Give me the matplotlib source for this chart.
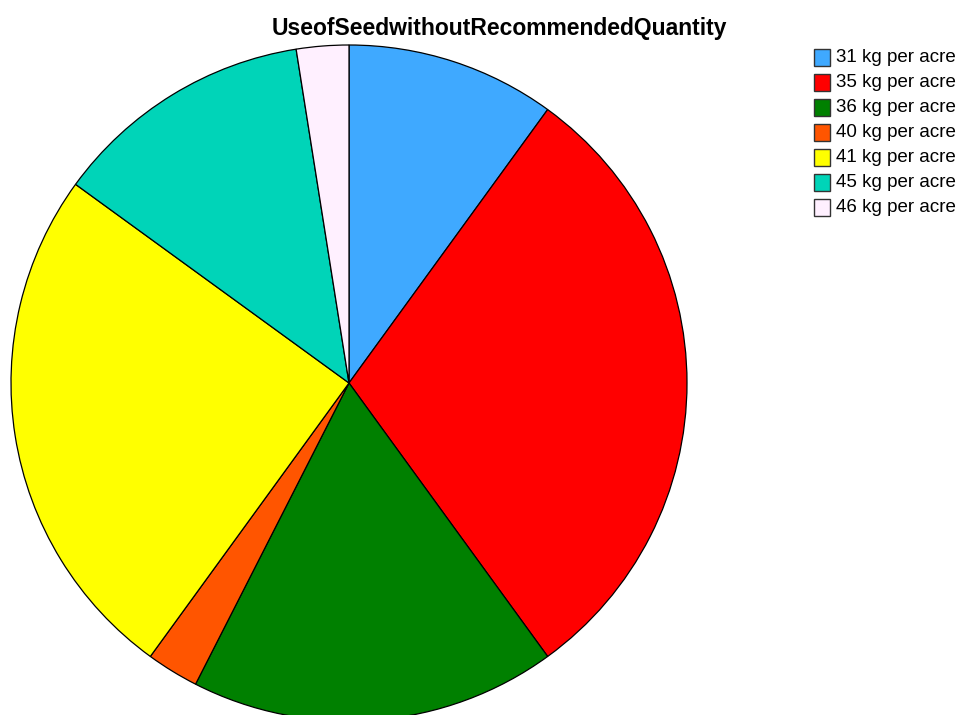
import matplotlib
matplotlib.use("Agg")
import matplotlib.pyplot as plt
from matplotlib.patches import Rectangle

labels = ["31 kg per acre", "35 kg per acre", "36 kg per acre", "40 kg per acre",
          "41 kg per acre", "45 kg per acre", "46 kg per acre"]
counts = [4, 12, 7, 1, 10, 5, 1]
colors = ["#3FA9FF", "#FF0000", "#008000", "#FF5500", "#FFFF00", "#00D4B8", "#FFF0FF"]

plt.rcParams["font.family"] = ["Liberation Sans", "DejaVu Sans"]

W, H = 961, 715
fig = plt.figure(figsize=(W / 100, H / 100), dpi=100)

# pie axes: centre (349, 383), radius 338 px
cx, cy, r = 349, 383, 338
ax = fig.add_axes([(cx - r) / W, (H - cy - r) / H, 2 * r / W, 2 * r / H])
ax.pie(counts, colors=colors, startangle=90, counterclock=False, radius=1,
       wedgeprops=dict(edgecolor="black", linewidth=0.9))
ax.set_xlim(-1, 1)
ax.set_ylim(-1, 1)
ax.set_aspect("equal")
ax.axis("off")

fig.text(499 / W, 1 - 28 / H, "UseofSeedwithoutRecommendedQuantity",
         ha="center", va="center", fontsize=16.5, fontweight="bold")

# legend drawn by hand
for i, (lab, col) in enumerate(zip(labels, colors)):
    yc = 57.5 + 25 * i
    fig.add_artist(Rectangle((814 / W, 1 - (yc + 8) / H), 16 / W, 16 / H,
                             transform=fig.transFigure, facecolor=col,
                             edgecolor="#333333", linewidth=1.0))
    fig.text(836 / W, 1 - yc / H, lab, ha="left", va="center", fontsize=13.5)

fig.savefig("out.png", dpi=100)
